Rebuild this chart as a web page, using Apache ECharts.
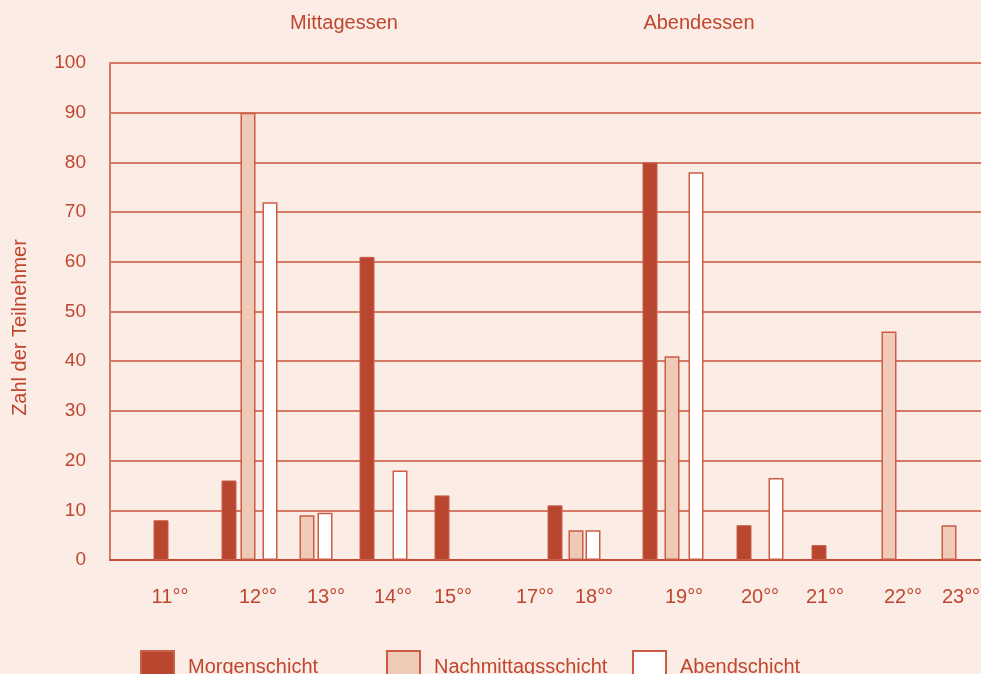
<!DOCTYPE html>
<html>
<head>
<meta charset="utf-8">
<script src="https://cdn.jsdelivr.net/npm/echarts@6/dist/echarts.min.js"></script>
<style>
  html, body { margin: 0; padding: 0; background: #FBEDE6; }
  #box { width: 981px; height: 674px; }
</style>
</head>
<body>
<div id="box"></div>
<script>
// x positions are in "slots" along the time strip (1 slot = 1/87.1 of the strip)
var hourLabels = ["11°°", "12°°", "13°°", "14°°", "15°°", "17°°", "18°°", "19°°", "20°°", "21°°", "22°°", "23°°"];
var hourPos = [6.0, 14.8, 21.6, 28.3, 34.3, 42.5, 48.4, 57.4, 65.0, 71.5, 79.3, 85.1];

var morningPos = [5.1, 11.9, 25.7, 33.2, 44.5, 54.0, 63.4, 70.9];
var morningVal = [8, 16, 61, 13, 11, 80, 7, 3];

var afternoonPos = [13.8, 19.7, 46.6, 56.2, 77.9, 83.9];
var afternoonVal = [90, 9, 6, 41, 46, 7];

var eveningPos = [16.0, 21.5, 29.0, 48.3, 58.6, 66.6];
var eveningVal = [72, 9.5, 18, 6, 78, 16.5];

var sectionTitles = ["Mittagessen", "Abendessen"];
var seriesNames = ["Morgenschicht", "Nachmittagsschicht", "Abendschicht"];

function pairs(pos, val) {
  return pos.map(function (p, i) { return [p, val[i]]; });
}

var red = "#C0462E";
var line = "#D57A66";
var font = "Liberation Sans";

function legendAt(name, x) {
  return {
    data: [name], left: x, top: 650, padding: 0, itemWidth: 33, itemHeight: 32, itemGap: 0, icon: "rect",
    textStyle: { color: red, fontSize: 20, padding: [0, 0, 0, 9], fontFamily: font }
  };
}

var myChart = echarts.init(document.getElementById("box"));
var option = {
  backgroundColor: "#FBEDE6",
  textStyle: { fontFamily: font },
  title: [
    { text: sectionTitles[0], left: 339, top: 8, textAlign: "center",
      textStyle: { color: red, fontSize: 20, fontWeight: "normal", fontFamily: font } },
    { text: sectionTitles[1], left: 694, top: 8, textAlign: "center",
      textStyle: { color: red, fontSize: 20, fontWeight: "normal", fontFamily: font } }
  ],
  legend: [
    legendAt(seriesNames[0], 140),
    legendAt(seriesNames[1], 386),
    legendAt(seriesNames[2], 632)
  ],
  grid: { left: 110, right: 0, top: 63, bottom: 114, outerBoundsMode: "none", containLabel: false },
  xAxis: {
    type: "value",
    min: 0,
    max: 87.1,
    axisLine: { show: true, onZero: false, lineStyle: { color: "#C24A33", width: 2 } },
    axisTick: { show: false },
    splitLine: { show: false },
    axisLabel: {
      customValues: hourPos,
      margin: 27,
      color: red,
      fontSize: 20,
      fontFamily: font,
      formatter: function (v) {
        var i = hourPos.indexOf(v);
        return i >= 0 ? hourLabels[i] : "";
      }
    }
  },
  yAxis: {
    type: "value",
    min: 0,
    max: 100,
    interval: 10,
    name: "Zahl der Teilnehmer",
    nameLocation: "middle",
    nameGap: 80,
    nameTextStyle: { color: red, fontSize: 20, fontFamily: font, padding: [0, 32, 0, 0] },
    axisLine: { show: true, lineStyle: { color: line, width: 2 } },
    axisTick: { show: false },
    axisLabel: { color: red, fontSize: 19, margin: 24, fontFamily: font },
    splitLine: { lineStyle: { color: line, width: 2 } }
  },
  series: [
    {
      name: seriesNames[0],
      type: "bar",
      barWidth: 15,
      barGap: "-100%",
      itemStyle: { color: "#B9472F", borderColor: "#C9604A", borderWidth: 1 },
      data: pairs(morningPos, morningVal)
    },
    {
      name: seriesNames[1],
      type: "bar",
      barWidth: 15,
      barGap: "-100%",
      itemStyle: { color: "#EFCAB6", borderColor: "#CC5C45", borderWidth: 1.5 },
      data: pairs(afternoonPos, afternoonVal)
    },
    {
      name: seriesNames[2],
      type: "bar",
      barWidth: 15,
      barGap: "-100%",
      itemStyle: { color: "#FFFFFF", borderColor: "#CC5C45", borderWidth: 1.5 },
      data: pairs(eveningPos, eveningVal)
    }
  ]
};
myChart.setOption(option);
</script>
</body>
</html>
